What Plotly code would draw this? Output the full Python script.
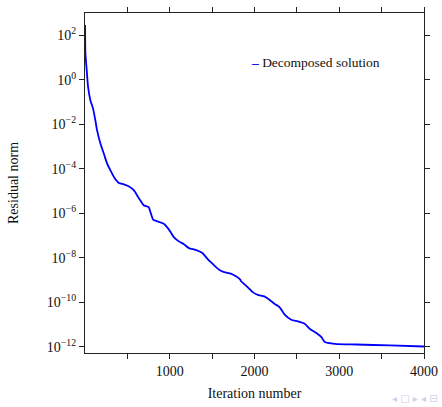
import plotly.graph_objects as go

# Convergence history of the decomposed solver
iterations = [1, 5, 20, 36, 63, 95, 122, 142, 182, 222, 261, 300, 341, 400, 459,
              519, 578, 637, 653, 692, 751, 772, 804, 851, 929, 989, 1048, 1107,
              1167, 1226, 1306, 1385, 1445, 1504, 1582, 1642, 1721, 1781, 1832,
              1840, 1919, 1979, 2038, 2116, 2176, 2235, 2295, 2354, 2433, 2513,
              2591, 2651, 2730, 2790, 2830, 2950, 3200, 3600, 4000]
residual = [2.8e2, 1.5e1, 2.7e0, 4.8e-1, 1.2e-1, 5.0e-2, 1.5e-2, 5.4e-3, 1.35e-3,
            4.8e-4, 1.7e-4, 8.5e-5, 4.3e-5, 2.3e-5, 2.0e-5, 1.6e-5, 1.07e-5,
            4.6e-6, 3.8e-6, 2.3e-6, 1.9e-6, 1.15e-6, 5.2e-7, 4.4e-7, 3.4e-7,
            1.9e-7, 8.5e-8, 5.5e-8, 4.1e-8, 2.75e-8, 2.3e-8, 1.66e-8, 9.1e-9,
            5.5e-9, 2.95e-9, 2.3e-9, 1.95e-9, 1.48e-9, 1.05e-9, 9.1e-10, 4.9e-10,
            2.9e-10, 2.2e-10, 1.86e-10, 1.32e-10, 8.7e-11, 6.2e-11, 2.9e-11,
            1.66e-11, 1.41e-11, 1.1e-11, 6.6e-12, 4.2e-12, 2.75e-12, 1.66e-12,
            1.38e-12, 1.29e-12, 1.17e-12, 1.05e-12]

x_tick_vals = [500, 1000, 1500, 2000, 2500, 3000, 3500, 4000]
x_tick_text = ["", "1000", "", "2000", "", "3000", "", "4000"]
y_tick_vals = [1e2, 1e0, 1e-2, 1e-4, 1e-6, 1e-8, 1e-10, 1e-12]
y_tick_text = ["10<sup>2</sup>", "10<sup>0</sup>", "10<sup>−2</sup>", "10<sup>−4</sup>",
               "10<sup>−6</sup>", "10<sup>−8</sup>", "10<sup>−10</sup>", "10<sup>−12</sup>"]

SERIF = "Liberation Serif, Times New Roman, serif"
BLUE = "#0000ff"

fig = go.Figure()
fig.add_trace(go.Scatter(
    x=iterations, y=residual, mode="lines", name="Decomposed solution",
    line=dict(color=BLUE, width=1.8, shape="spline", smoothing=0.6),
    showlegend=False,
))

axis_common = dict(
    showline=True, linecolor="#222222", linewidth=1.3, mirror="allticks",
    ticks="outside", ticklen=5, tickwidth=1, tickcolor="#222222",
    showgrid=False, zeroline=False,
    tickfont=dict(family=SERIF, size=14, color="#111111"),
)

fig.update_xaxes(
    range=[0, 4000], tickmode="array", tickvals=x_tick_vals, ticktext=x_tick_text,
    title=dict(text="Iteration number", font=dict(family=SERIF, size=14, color="#111111"),
               standoff=10),
    automargin=False,
    **axis_common,
)
fig.update_yaxes(
    type="log", range=[-12.27, 2.99], tickmode="array",
    tickvals=y_tick_vals, ticktext=y_tick_text,
    title=dict(text="Residual norm", font=dict(family=SERIF, size=14, color="#111111"),
               standoff=24),
    automargin=False,
    **axis_common,
)

# legend entry: short blue dash followed by the series name
fig.add_annotation(
    x=0.485, y=0.853, xref="paper", yref="paper", xanchor="left", yanchor="middle",
    text="<span style='color:#0000ff'><b>–</b></span> Decomposed solution",
    showarrow=False, font=dict(family=SERIF, size=13.5, color="#111111"),
)

# faint navigation glyphs in the lower-right corner
fig.add_annotation(
    x=1.0, y=0.0, xref="paper", yref="paper", xanchor="right", yanchor="top",
    yshift=-38, xshift=16,
    text="◂ □ ▸ ◂ ⊟", showarrow=False,
    font=dict(family="DejaVu Sans", size=10, color="#cfd0e6"),
)

fig.update_layout(
    width=442, height=407,
    margin=dict(l=85, r=18, t=13, b=54, autoexpand=False),
    paper_bgcolor="white", plot_bgcolor="white",
    font=dict(family=SERIF),
)

fig.write_html("out.html")
